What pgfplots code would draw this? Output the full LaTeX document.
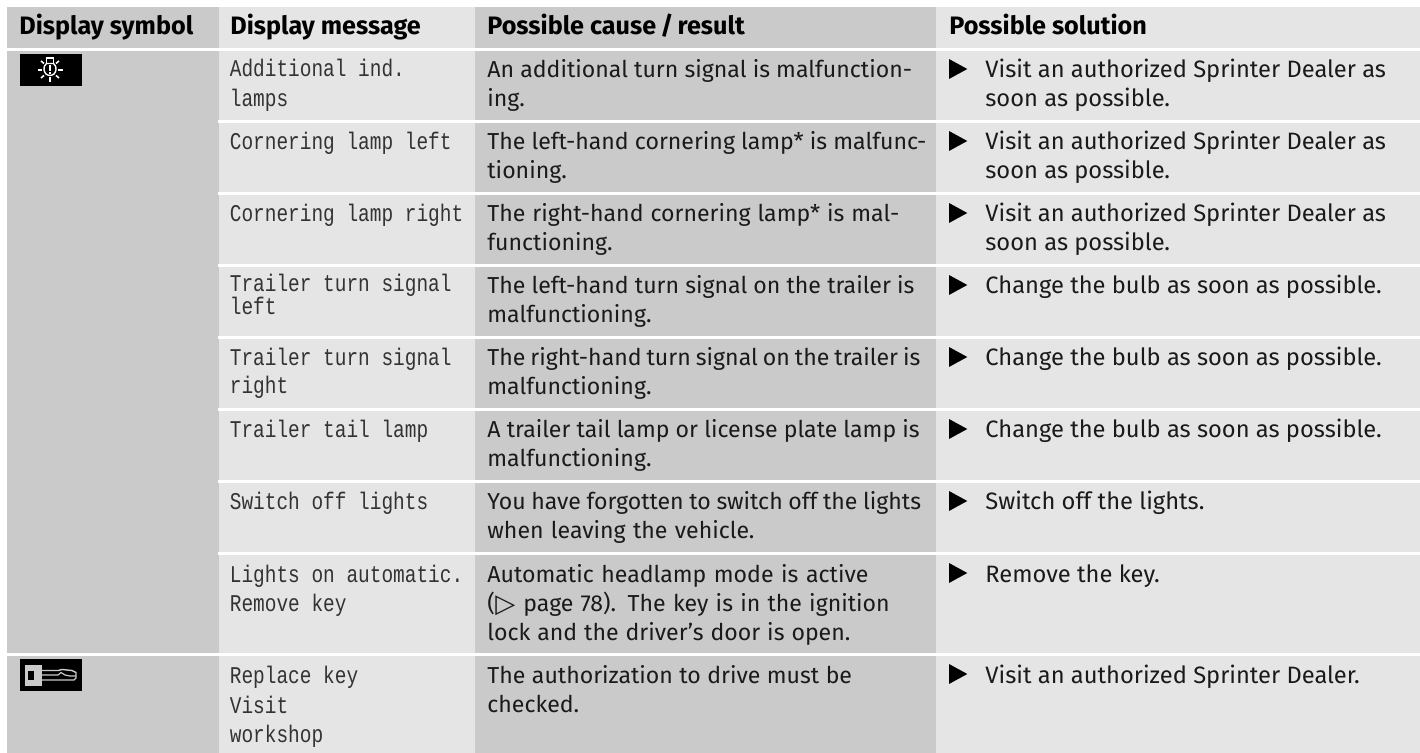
\documentclass[border=0pt]{standalone}
\usepackage{pgfplots}
\pgfplotsset{compat=1.18}
\usepackage{fontspec}
\setmainfont{Fira Sans}
\newfontfamily\monof[FakeStretch=0.81]{Liberation Mono}
\newfontfamily\symf{DejaVu Sans}
\definecolor{dk}{HTML}{CACACA}
\definecolor{lt}{HTML}{E5E5E5}
\definecolor{tx}{HTML}{1A1A1A}
\definecolor{mx}{HTML}{333333}
\newcommand{\R}[5]{\addplot[fill=#5,draw=none] coordinates {(#1,#2)(#3,#2)(#3,#4)(#1,#4)} --cycle;}
\newcommand{\B}[3]{\node[anchor=base west,inner sep=0pt,text=tx] at (axis cs:#1,#2) {\fontsize{11.85}{14}\selectfont #3};}
% column 3: single words at the column's size; C fits a line to the end point
\newcommand{\Cs}[2]{\node[anchor=base west,inner sep=0pt,text=tx] at (axis cs:487,#1) {\fontsize{11.55}{14}\selectfont #2};}
\newcommand{\C}[4][487]{\node[anchor=base west,inner sep=0pt,text=tx] at (axis cs:#1,#2) {\fontsize{11.55}{14}\selectfont\hbox to \dimexpr(#3pt-#1pt)/2\relax{\spaceskip=\fontdimen2\font plus 1fil minus 1fil\relax #4}};}
\newcommand{\M}[3]{\node[anchor=base west,inner sep=0pt,text=mx] at (axis cs:#1,#2) {\monof\fontsize{12}{14}\selectfont #3};}
\newcommand{\Hd}[2]{\node[anchor=base west,inner sep=0pt,text=black] at (axis cs:#1,35) {\fontsize{12.6}{14}\selectfont\bfseries #2};}
\newcommand{\Tri}[1]{\addplot[fill=black,draw=none] coordinates {(949,#1-19)(967.3,#1-9)(949,#1+1)} --cycle;}
\begin{document}
\begin{tikzpicture}
\begin{axis}[scale only axis,width=710pt,height=376.5pt,xmin=0,xmax=1420,ymin=0,ymax=753,y dir=reverse,hide axis,clip=true]
\R{0}{0}{1420}{753}{white}
% columns
\R{7}{7}{219}{753}{dk}
\R{219}{7}{475}{753}{lt}
\R{475}{7}{936}{753}{dk}
\R{936}{7}{1420}{753}{lt}
% full separators
\R{0}{47.7}{1420}{50.7}{white}
\R{0}{652.7}{1420}{655.7}{white}
% row separators
\R{218}{120}{1420}{122.7}{white}
\R{218}{192}{1420}{194.7}{white}
\R{218}{264}{1420}{266.7}{white}
\R{218}{336}{1420}{338.7}{white}
\R{218}{408}{1420}{410.7}{white}
\R{218}{480}{1420}{482.7}{white}
\R{218}{552}{1420}{555}{white}
% icon 1
\R{20}{54}{81.7}{86}{black}
\addplot[draw=white,line width=0.7pt,smooth] coordinates {(44.5,66)(44,70)(46,74)(50,75.5)(54,74)(56,70)(55.5,66)};
\addplot[draw=white,line width=0.7pt] coordinates {(44.5,66)(46.5,63.5)(53.5,63.5)(55.5,66)};
\addplot[draw=white,line width=0.7pt] coordinates {(46.5,63)(46.5,58)(53.5,58)(53.5,63)};
\addplot[draw=white,line width=0.9pt] coordinates {(50,65.5)(50,71)};
\addplot[draw=white,line width=0.9pt] coordinates {(50,72.5)(50,74)};
\addplot[draw=white,line width=0.8pt] coordinates {(37.5,70)(42,70)};
\addplot[draw=white,line width=0.8pt] coordinates {(58,70)(62.5,70)};
\addplot[draw=white,line width=0.8pt] coordinates {(50,77.5)(50,82)};
\addplot[draw=white,line width=0.8pt] coordinates {(41,61)(44,63.5)};
\addplot[draw=white,line width=0.8pt] coordinates {(59,61)(56,63.5)};
\addplot[draw=white,line width=0.8pt] coordinates {(41,78)(44,75.5)};
\addplot[draw=white,line width=0.8pt] coordinates {(59,78)(56,75.5)};
% icon 2
\R{20}{659}{81.7}{691}{black}
\R{25}{665}{41.7}{686}{dk}
\R{27.5}{671}{33.5}{680}{black}
\addplot[draw=dk,line width=0.7pt] coordinates {(41.7,670.5)(58,670.5)(62,669.5)(72,670.5)(76,672.5)(76,678)(74,680)(41.7,680)};
\addplot[draw=dk,line width=0.6pt] coordinates {(41.7,675)(58,675)(61,672.5)(65,675)(70,676)(76,676)};
% headers
\Hd{19}{Display symbol}
\Hd{230}{Display message}
\Hd{487}{Possible cause\,/\,result}
\Hd{949}{Possible solution}
% col 2
\M{229.5}{77}{Additional ind.}
\M{229.5}{107}{lamps}
\M{229.5}{150}{Cornering lamp left}
\M{229.5}{222}{Cornering lamp right}
\M{229.5}{292}{Trailer turn signal}
\M{229.5}{315}{left}
\M{229.5}{366}{Trailer turn signal}
\M{229.5}{394}{right}
\M{229.5}{438}{Trailer tail lamp}
\M{229.5}{510}{Switch off lights}
\M{229.5}{582}{Lights on automatic.}
\M{229.5}{611}{Remove key}
\M{229.5}{683.3}{Replace key}
\M{229.5}{713}{Visit}
\M{229.5}{742.7}{workshop}
% col 3
\C{78}{911.7}{An additional turn signal is malfunction-}
\Cs{107}{ing.}
\C{150}{926}{The left-hand cornering lamp* is malfunc-}
\Cs{179}{tioning.}
\C{222}{899}{The right-hand cornering lamp* is mal-}
\Cs{251}{functioning.}
\C{294}{914}{The left-hand turn signal on the trailer is}
\Cs{323}{malfunctioning.}
\C{366}{920}{The right-hand turn signal on the trailer is}
\Cs{395}{malfunctioning.}
\C{438}{919.3}{A trailer tail lamp or license plate lamp is}
\Cs{467}{malfunctioning.}
\C{510}{920.7}{You have forgotten to switch off the lights}
\C{539}{754}{when leaving the vehicle.}
\C{582}{868}{Automatic headlamp mode is active}
\Cs{611}{(}
\node[anchor=base west,inner sep=0pt,text=tx] at (axis cs:495,612) {\symf\fontsize{13}{15}\selectfont ▷};
\C[523]{611}{889.3}{page 78). The key is in the ignition}
\C{640}{850}{lock and the driver’s door is open.}
\C{683}{851.7}{The authorization to drive must be}
\Cs{712.5}{checked.}
% col 4
\Tri{78}\Tri{150}\Tri{222}\Tri{294}\Tri{366}\Tri{438}\Tri{510}\Tri{582}\Tri{683}
\B{985}{78}{Visit an authorized Sprinter Dealer as}
\B{985}{107}{soon as possible.}
\B{985}{150}{Visit an authorized Sprinter Dealer as}
\B{985}{179}{soon as possible.}
\B{985}{222}{Visit an authorized Sprinter Dealer as}
\B{985}{251}{soon as possible.}
\B{985}{294}{Change the bulb as soon as possible.}
\B{985}{366}{Change the bulb as soon as possible.}
\B{985}{438}{Change the bulb as soon as possible.}
\B{985}{510}{Switch off the lights.}
\B{985}{582}{Remove the key.}
\B{985}{683}{Visit an authorized Sprinter Dealer.}
\end{axis}
\end{tikzpicture}
\end{document}
